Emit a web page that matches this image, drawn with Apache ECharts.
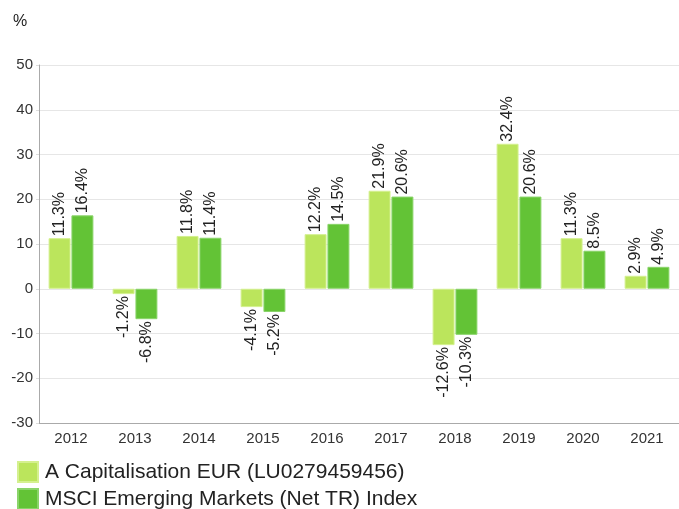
<!DOCTYPE html>
<html>
<head>
<meta charset="utf-8">
<script src="https://cdn.jsdelivr.net/npm/echarts@6/dist/echarts.min.js"></script>
<style>
    html, body { margin: 0; padding: 0; background: #fff; }
    #chart { width: 679px; height: 509px; }
</style>
</head>
<body>
<div id="chart"></div>
<script>
var years = ['2012', '2013', '2014', '2015', '2016', '2017', '2018', '2019', '2020', '2021'];
var fundName = 'A Capitalisation EUR (LU0279459456)';
var indexName = 'MSCI Emerging Markets (Net TR) Index';
var fundValues = [11.3, -1.2, 11.8, -4.1, 12.2, 21.9, -12.6, 32.4, 11.3, 2.9];
var indexValues = [16.4, -6.8, 11.4, -5.2, 14.5, 20.6, -10.3, 20.6, 8.5, 4.9];

var font = '"Liberation Sans", Arial, sans-serif';

// positive labels go above the bar, negative ones below, both read bottom-to-top
function withLabels(values) {
    return values.map(function (v) {
        var neg = v < 0;
        return {
            value: v,
            label: {
                position: neg ? 'bottom' : 'top',
                align: neg ? 'right' : 'left',
                verticalAlign: 'middle'
            }
        };
    });
}

var labelStyle = {
    show: true,
    rotate: 90,
    distance: 2,
    fontFamily: font,
    fontSize: 16,
    color: '#222',
    formatter: function (p) { return p.value.toFixed(1) + '%'; }
};

function legendAt(top, name) {
    return {
        left: 12,
        top: top,
        itemWidth: 20,
        itemHeight: 20,
        icon: 'rect',
        selectedMode: false,
        textStyle: { fontFamily: font, fontSize: 21, color: '#222', padding: [0, 0, 0, 2] },
        data: [name]
    };
}

var chart = echarts.init(document.getElementById('chart'));
chart.setOption({
    animation: false,
    title: {
        text: '%',
        left: 8,
        top: 9,
        textStyle: { fontFamily: font, fontSize: 16, fontWeight: 'normal', color: '#222' }
    },
    grid: { left: 39, right: -2, top: 65, bottom: 86 },
    legend: [legendAt(456, fundName), legendAt(483, indexName)],
    xAxis: {
        type: 'category',
        data: years,
        axisLine: { onZero: false, lineStyle: { color: '#aaa' } },
        axisTick: { show: false },
        axisLabel: { fontFamily: font, fontSize: 15, color: '#333', margin: 8 }
    },
    yAxis: {
        type: 'value',
        min: -30,
        max: 50,
        interval: 10,
        axisLine: { show: true, lineStyle: { color: '#aaa' } },
        axisTick: { show: true, length: 3, lineStyle: { color: '#ddd' } },
        axisLabel: { fontFamily: font, fontSize: 15, color: '#333', margin: 6 },
        splitLine: { lineStyle: { color: '#e6e6e6' } }
    },
    series: [{
        name: fundName,
        type: 'bar',
        data: withLabels(fundValues),
        barGap: '4%',
        barCategoryGap: '30%',
        itemStyle: { color: '#bbe55c', borderColor: '#d4f08f', borderWidth: 1 },
        label: labelStyle
    }, {
        name: indexName,
        type: 'bar',
        data: withLabels(indexValues),
        itemStyle: { color: '#63c336', borderColor: '#8ad46a', borderWidth: 1 },
        label: labelStyle
    }]
});
</script>
</body>
</html>
